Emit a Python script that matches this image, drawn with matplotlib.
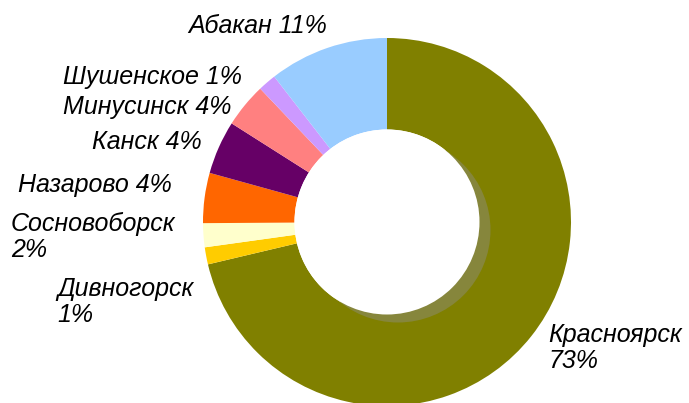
import matplotlib
matplotlib.use("Agg")
import matplotlib.pyplot as plt
from matplotlib.patches import Circle

# shares, clockwise from 12 o'clock
cities = ["Красноярск", "Дивногорск", "Сосновоборск", "Назарово",
          "Канск", "Минусинск", "Шушенское", "Абакан"]
shares = [71.3, 1.5, 2.1, 4.4, 4.7, 3.9, 1.6, 10.5]
pct_labels = ["73%", "1%", "2%", "4%", "4%", "4%", "1%", "11%"]
colors = ["#808000", "#ffcc00", "#ffffcc", "#ff6600",
          "#660066", "#ff8080", "#cc99ff", "#99ccff"]

W, H = 689, 403
fig = plt.figure(figsize=(W / 100, H / 100), dpi=100)

cx, cy, R, r = 387, 222, 184, 92.5
ax = fig.add_axes([(cx - R) / W, (H - cy - R) / H, 2 * R / W, 2 * R / H])
ax.axis("off")

wedges, _ = ax.pie(shares, colors=colors, startangle=90, counterclock=False,
                   radius=1, wedgeprops=dict(width=1 - r / R, linewidth=0))
for w in wedges:
    w.set_clip_on(False)
# pie() resets the limits, so set them afterwards
ax.set_xlim(-1, 1)
ax.set_ylim(-1, 1)
ax.set_aspect("equal")

# shadow of the hole, then the hole itself
ax.add_patch(Circle((11 / R, -8 / R), r / R, color="#86863c", zorder=3, lw=0))
ax.add_patch(Circle((0, 0), r / R, color="white", zorder=4, lw=0))

# label placement (pixel coords of left edge / block centre)
label_pos = [(548, 348), (57, 302), (11, 237), (18, 185),
             (92, 142), (63, 107), (63, 77), (188, 26)]
two_lines = {"Красноярск", "Дивногорск", "Сосновоборск"}
for city, pct, (x, y) in zip(cities, pct_labels, label_pos):
    sep = "\n" if city in two_lines else " "
    fig.text(x / W, 1 - y / H, city + sep + pct, ha="left", va="center",
             fontsize=18, style="italic", family="Liberation Sans",
             linespacing=1.12)

fig.savefig("out.png", dpi=100)
